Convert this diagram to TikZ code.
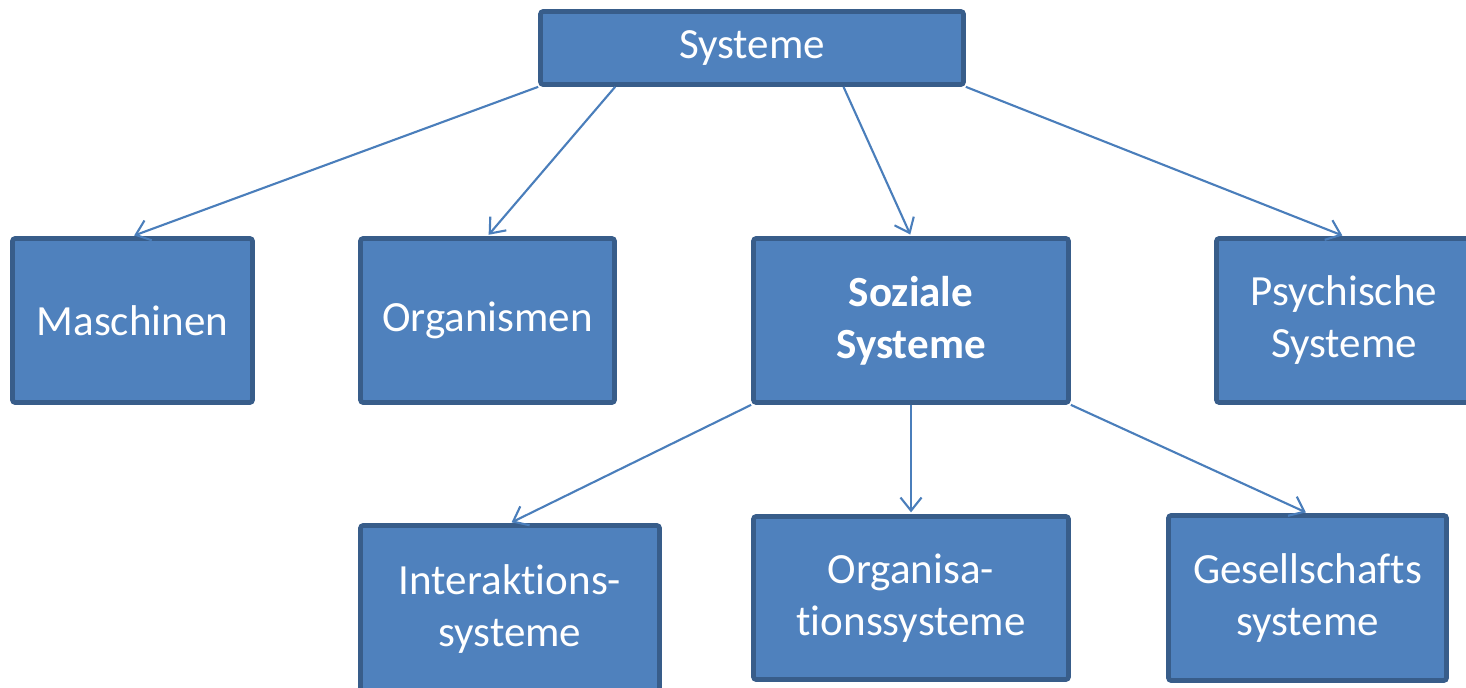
\documentclass[tikz,border=0pt]{standalone}
\usepackage{fontspec}
\setmainfont{Carlito}[Ligatures=NoCommon]
\usetikzlibrary{positioning, arrows.meta, calc}

\definecolor{boxfill}{HTML}{4F81BD}
\definecolor{boxline}{HTML}{385D8A}
\definecolor{linkcol}{HTML}{4A7EBB}

\begin{document}
\begin{tikzpicture}[
    x=0.02cm, y=-0.02cm,
    >={Straight Barb[length=7.5pt, width=12pt, line width=1.2pt]},
    sysbox/.style={draw=boxline, fill=boxfill, line width=2.7pt, rounded corners=1.5pt,
        text=white, align=center, inner sep=2pt, font=\fontsize{24.5}{29.6}\selectfont},
    link/.style={->, draw=linkcol, line width=1.2pt, shorten >=1pt}
]
    % page frame
    \useasboundingbox (0,0) rectangle (1466,688);
    \clip (0,0) rectangle (1466,688);

    % Top level
    \node[sysbox, minimum width=8.46cm, minimum height=1.46cm] (sys) at (752,48) {Systeme};

    % Second level
    \node[sysbox, minimum width=4.80cm, minimum height=3.28cm] (masch) at (132.5,320.5) {Maschinen};
    \node[sysbox, minimum width=5.08cm, minimum height=3.28cm] (organ) at (487.5,320.5) {Organismen};
    \node[sysbox, minimum width=6.30cm, minimum height=3.28cm, font=\fontsize{24.5}{29.6}\selectfont\bfseries] (sozial) at (911,320.5) {Soziale\\Systeme};
    \node[sysbox, minimum width=5.10cm, minimum height=3.28cm] (psych) at (1344,320.5) {Psychische\\Systeme};

    % Third level
    \node[sysbox, minimum width=5.98cm, minimum height=3.34cm] (interakt) at (510,609) {Interaktions-\\systeme};
    \node[sysbox, minimum width=6.30cm, minimum height=3.26cm] (orgsys) at (911,598) {Organisa-\\tionssysteme};
    \node[sysbox, minimum width=5.56cm, minimum height=3.30cm] (gesell) at (1307.5,598) {Gesellschafts\\systeme};

    % Arrows from Systeme
    \draw[link] (sys.south west) -- (masch.north);
    \draw[link] ($(sys.south west)!0.18!(sys.south east)$) -- (organ.north);
    \draw[link] ($(sys.south west)!0.714!(sys.south east)$) -- (sozial.north);
    \draw[link] (sys.south east) -- (psych.north);

    % Arrows from Soziale Systeme
    \draw[link] (sozial.south west) -- (interakt.north);
    \draw[link] (sozial.south) -- (orgsys.north);
    \draw[link] (sozial.south east) -- (gesell.north);

\end{tikzpicture}
\end{document}
